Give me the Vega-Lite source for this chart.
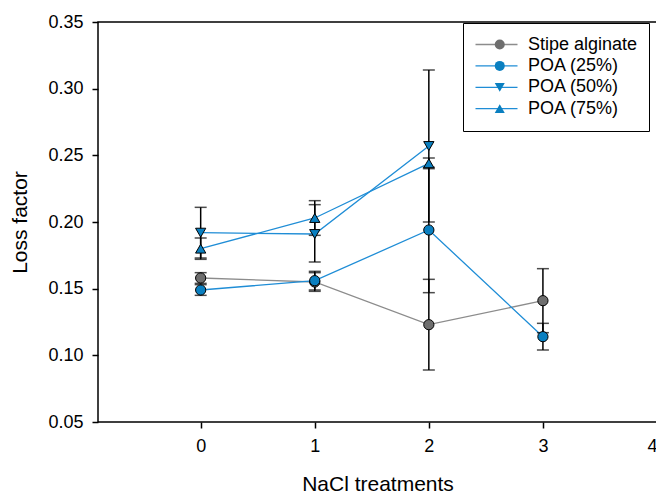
{
  "$schema": "https://vega.github.io/schema/vega-lite/v6.json",
  "width": 559,
  "height": 400,
  "autosize": {"type": "none"},
  "padding": {"left": 98, "top": 22, "right": 0, "bottom": 71},
  "background": "white",
  "config": {
    "font": "Liberation Sans",
    "view": {"stroke": "black", "strokeWidth": 1.5},
    "axis": {
      "domain": false,
      "grid": false,
      "ticks": true,
      "tickSize": 6,
      "tickColor": "black",
      "tickWidth": 1.5,
      "labelFont": "Liberation Sans",
      "labelFontSize": 18,
      "labelColor": "black",
      "labelPadding": 9,
      "titleFont": "Liberation Sans",
      "titleFontSize": 21,
      "titleFontWeight": "normal",
      "titleColor": "black"
    },
    "legend": {
      "labelFont": "Liberation Sans",
      "labelFontSize": 18,
      "labelColor": "black"
    }
  },
  "data": {
    "values": [
      {"series": "Stipe alginate", "x": 0, "y": 0.158, "lo": 0.154, "hi": 0.162},
      {"series": "Stipe alginate", "x": 1, "y": 0.155, "lo": 0.148, "hi": 0.162},
      {"series": "Stipe alginate", "x": 2, "y": 0.123, "lo": 0.089, "hi": 0.157},
      {"series": "Stipe alginate", "x": 3, "y": 0.141, "lo": 0.117, "hi": 0.165},
      {"series": "POA (25%)", "x": 0, "y": 0.149, "lo": 0.145, "hi": 0.153},
      {"series": "POA (25%)", "x": 1, "y": 0.156, "lo": 0.149, "hi": 0.163},
      {"series": "POA (25%)", "x": 2, "y": 0.194, "lo": 0.147, "hi": 0.241},
      {"series": "POA (25%)", "x": 3, "y": 0.114, "lo": 0.104, "hi": 0.124},
      {"series": "POA (50%)", "x": 0, "y": 0.192, "lo": 0.173, "hi": 0.211},
      {"series": "POA (50%)", "x": 1, "y": 0.191, "lo": 0.170, "hi": 0.213},
      {"series": "POA (50%)", "x": 2, "y": 0.257, "lo": 0.200, "hi": 0.314},
      {"series": "POA (75%)", "x": 0, "y": 0.180, "lo": 0.172, "hi": 0.188},
      {"series": "POA (75%)", "x": 1, "y": 0.203, "lo": 0.190, "hi": 0.216},
      {"series": "POA (75%)", "x": 2, "y": 0.244, "lo": 0.240, "hi": 0.248}
    ]
  },
  "encoding": {
    "x": {
      "field": "x",
      "type": "quantitative",
      "title": "NaCl treatments",
      "scale": {"domain": [-0.9, 4], "nice": false, "zero": false},
      "axis": {"values": [0, 1, 2, 3, 4], "format": "d", "titlePadding": 18}
    }
  },
  "layer": [
    {
      "mark": {"type": "line", "strokeWidth": 1.3},
      "encoding": {
        "y": {
          "field": "y",
          "type": "quantitative",
          "title": "Loss factor",
          "scale": {"domain": [0.05, 0.35], "nice": false, "zero": false},
          "axis": {"values": [0.05, 0.1, 0.15, 0.2, 0.25, 0.3, 0.35], "format": ".2f", "titlePadding": 17}
        },
        "stroke": {
          "field": "series",
          "type": "nominal",
          "scale": {
            "domain": ["POA (25%)", "POA (50%)", "POA (75%)", "Stipe alginate"],
            "range": ["#1f8dd6", "#1f8dd6", "#1f8dd6", "#8c8c8c"]
          },
          "legend": {
            "title": null,
            "orient": "none",
            "legendX": 365,
            "legendY": 1,
            "values": ["Stipe alginate", "POA (25%)", "POA (50%)", "POA (75%)"],
            "symbolType": "stroke",
            "symbolSize": 1764,
            "symbolStrokeWidth": 1.3,
            "clipHeight": 20,
            "rowPadding": 1.4,
            "labelOffset": 9.5,
            "padding": 11.5,
            "strokeColor": "black",
            "fillColor": "white",
            "labelLimit": 300
          }
        }
      }
    },
    {
      "mark": {
        "type": "errorbar",
        "ticks": {"size": 12, "color": "black", "thickness": 1.5},
        "rule": {"color": "black", "strokeWidth": 1.5}
      },
      "encoding": {
        "y": {"field": "lo", "type": "quantitative", "title": "Loss factor"},
        "y2": {"field": "hi"}
      }
    },
    {
      "mark": {"type": "point", "filled": true, "opacity": 1, "stroke": "black", "strokeWidth": 1, "size": 105},
      "encoding": {
        "y": {"field": "y", "type": "quantitative", "title": "Loss factor"},
        "shape": {
          "field": "series",
          "type": "nominal",
          "scale": {
            "domain": ["Stipe alginate", "POA (25%)", "POA (50%)", "POA (75%)"],
            "range": ["circle", "circle", "triangle-down", "triangle-up"]
          },
          "legend": {
            "title": null,
            "orient": "none",
            "legendX": 365,
            "legendY": 1,
            "symbolSize": 100,
            "symbolOffset": 16.25,
            "symbolStrokeColor": "black",
            "symbolStrokeWidth": 1,
            "symbolOpacity": 1,
            "clipHeight": 20,
            "rowPadding": 1.4,
            "labelExpr": "''",
            "padding": 11.5
          }
        },
        "fill": {
          "field": "series",
          "type": "nominal",
          "scale": {
            "domain": ["Stipe alginate", "POA (25%)", "POA (50%)", "POA (75%)"],
            "range": ["#6e6e6e", "#0a7fc0", "#0a7fc0", "#0a7fc0"]
          },
          "legend": {
            "title": null,
            "orient": "none",
            "legendX": 365,
            "legendY": 1,
            "symbolSize": 100,
            "symbolOffset": 16.25,
            "symbolStrokeColor": "black",
            "symbolStrokeWidth": 1,
            "symbolOpacity": 1,
            "clipHeight": 20,
            "rowPadding": 1.4,
            "labelExpr": "''",
            "padding": 11.5
          }
        }
      }
    }
  ]
}
